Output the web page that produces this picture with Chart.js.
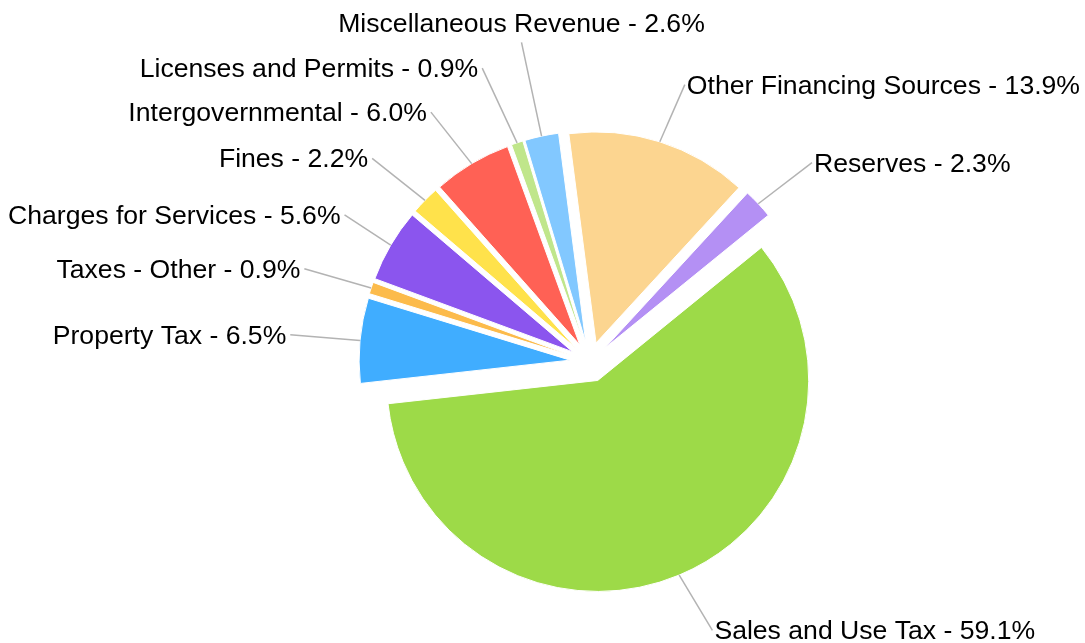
<!DOCTYPE html>
<html>
<head>
<meta charset="utf-8">
<script src="https://cdn.jsdelivr.net/npm/chart.js@4.4.1/dist/chart.umd.min.js"></script>
<style>
html,body{margin:0;padding:0;background:#fff;}
#wrap{width:1085px;height:643px;position:relative;}
</style>
</head>
<body>
<div id="wrap"><canvas id="c"></canvas></div>
<script>
// ---- data ----
const categories = ['Sales and Use Tax','Property Tax','Taxes - Other','Charges for Services','Fines','Intergovernmental','Licenses and Permits','Miscellaneous Revenue','Other Financing Sources','Reserves'];
const shares = [59.1, 6.5, 0.9, 5.6, 2.2, 6.0, 0.9, 2.6, 13.9, 2.3];
const sliceColors = ['#9DDA48','#40ADFF','#FCBB4B','#8B55EE','#FFE24B','#FF6155','#C0E68B','#82C8FF','#FCD590','#B490F4'];

// ---- layout constants ----
const START_ANGLE = 50.9;
const PIE_RADIUS = 211;
const SLICE_OFFSET = 20;
const LABEL_GAP = 60;
const LABEL_SHIFT = 10;
const MIN_SPACING = 44;
const EDGE_MARGIN = 8;
const FONT = '26.6px "Liberation Sans", Arial, sans-serif';

const explodePlugin = {
  id: 'explode',
  beforeDatasetDraw(chart, args) {
    const ctx = chart.ctx;
    args.meta.data.forEach(arc => {
      const mid = (arc.startAngle + arc.endAngle) / 2;
      ctx.save();
      ctx.translate(Math.cos(mid) * SLICE_OFFSET, Math.sin(mid) * SLICE_OFFSET);
      arc.draw(ctx);
      ctx.restore();
    });
    return false;
  }
};

const labelPlugin = {
  id: 'pieLabels',
  afterDatasetsDraw(chart) {
    const ctx = chart.ctx;
    const meta = chart.getDatasetMeta(0);
    const W = chart.width;
    ctx.save();
    ctx.font = FONT;
    const items = meta.data.map((arc, i) => {
      const mid = (arc.startAngle + arc.endAngle) / 2;
      const dx = Math.cos(mid), dy = Math.sin(mid);
      const cx = arc.x, cy = arc.y, R = arc.outerRadius;
      const edge = {x: cx + dx * (R + SLICE_OFFSET), y: cy + dy * (R + SLICE_OFFSET)};
      const Rl = R + SLICE_OFFSET + LABEL_GAP;
      const side = (Math.abs(dx) < 0.25 && dy < 0) ? 'top' : (dx < 0 ? 'left' : 'right');
      const text = categories[i] + ' - ' + shares[i].toFixed(1) + '%';
      const shift = side === 'left' ? -LABEL_SHIFT : (side === 'right' ? LABEL_SHIFT : 0);
      return {dx, dy, cx, cy, edge, Rl, side, text, shift, w: ctx.measureText(text).width,
              ax: cx + dx * Rl + shift, ay: cy + dy * Rl};
    });
    const place = (it) => {
      if (Math.abs(it.dy) > 0.2) it.ax = it.cx + it.dx * (it.ay - it.cy) / it.dy + it.shift;
    };
    const left = items.filter(t => t.side === 'left').sort((a, b) => b.ay - a.ay);
    for (let k = 1; k < left.length; k++) {
      left[k].ay = Math.min(left[k].ay, left[k - 1].ay - MIN_SPACING);
      place(left[k]);
    }
    const right = items.filter(t => t.side === 'right').sort((a, b) => a.ay - b.ay);
    for (let k = 1; k < right.length; k++) {
      right[k].ay = Math.max(right[k].ay, right[k - 1].ay + MIN_SPACING);
      place(right[k]);
    }
    // keep text inside the canvas
    left.forEach(it => { it.ax = Math.max(it.ax, EDGE_MARGIN + it.w + 4); });
    right.forEach(it => { it.ax = Math.min(it.ax, W - 5 - it.w - 2); });

    const box = (it) => {
      if (it.side === 'left') return {x0: it.ax - 4 - it.w, x1: it.ax, y0: it.ay - 15, y1: it.ay + 15};
      if (it.side === 'right') return {x0: it.ax, x1: it.ax + 4 + it.w, y0: it.ay - 15, y1: it.ay + 15};
      return {x0: it.ax - it.w / 2, x1: it.ax + it.w / 2, y0: it.ay - 10 - 22, y1: it.ay - 10 + 6};
    };
    const others = items.filter(t => t.side !== 'top');
    items.filter(t => t.side === 'top').forEach(it => {
      let guard = 0;
      const hits = () => others.some(o => {
        const a = box(it), b = box(o);
        return a.x0 < b.x1 && a.x1 > b.x0 && a.y0 < b.y1 + 14 && a.y1 + 14 > b.y0;
      });
      while (hits() && guard++ < 400) {
        it.ay -= 1;
        it.ax = it.cx + it.dx * (it.ay - it.cy) / it.dy;
      }
    });
    items.forEach(it => {
      ctx.strokeStyle = '#b3b3b3';
      ctx.lineWidth = 1.5;
      ctx.beginPath();
      ctx.moveTo(it.edge.x, it.edge.y);
      ctx.lineTo(it.ax, it.ay);
      ctx.stroke();
      ctx.fillStyle = '#000';
      ctx.textBaseline = 'alphabetic';
      if (it.side === 'left') {
        ctx.textAlign = 'right';
        ctx.fillText(it.text, it.ax - 4, it.ay + 9);
      } else if (it.side === 'right') {
        ctx.textAlign = 'left';
        ctx.fillText(it.text, it.ax + 2, it.ay + 9);
      } else {
        ctx.textAlign = 'center';
        ctx.fillText(it.text, it.ax, it.ay - 10);
      }
    });
    ctx.restore();
  }
};

new Chart(document.getElementById('c'), {
  type: 'pie',
  data: {
    labels: categories,
    datasets: [{
      data: shares,
      backgroundColor: sliceColors,
      borderColor: '#ffffff',
      borderWidth: 1
    }]
  },
  options: {
    responsive: true,
    maintainAspectRatio: false,
    animation: false,
    rotation: START_ANGLE,
    radius: PIE_RADIUS,
    layout: {padding: {left: 95, top: 81, right: 0, bottom: 0}},
    plugins: {legend: {display: false}, tooltip: {enabled: false}}
  },
  plugins: [explodePlugin, labelPlugin]
});
</script>
</body>
</html>
